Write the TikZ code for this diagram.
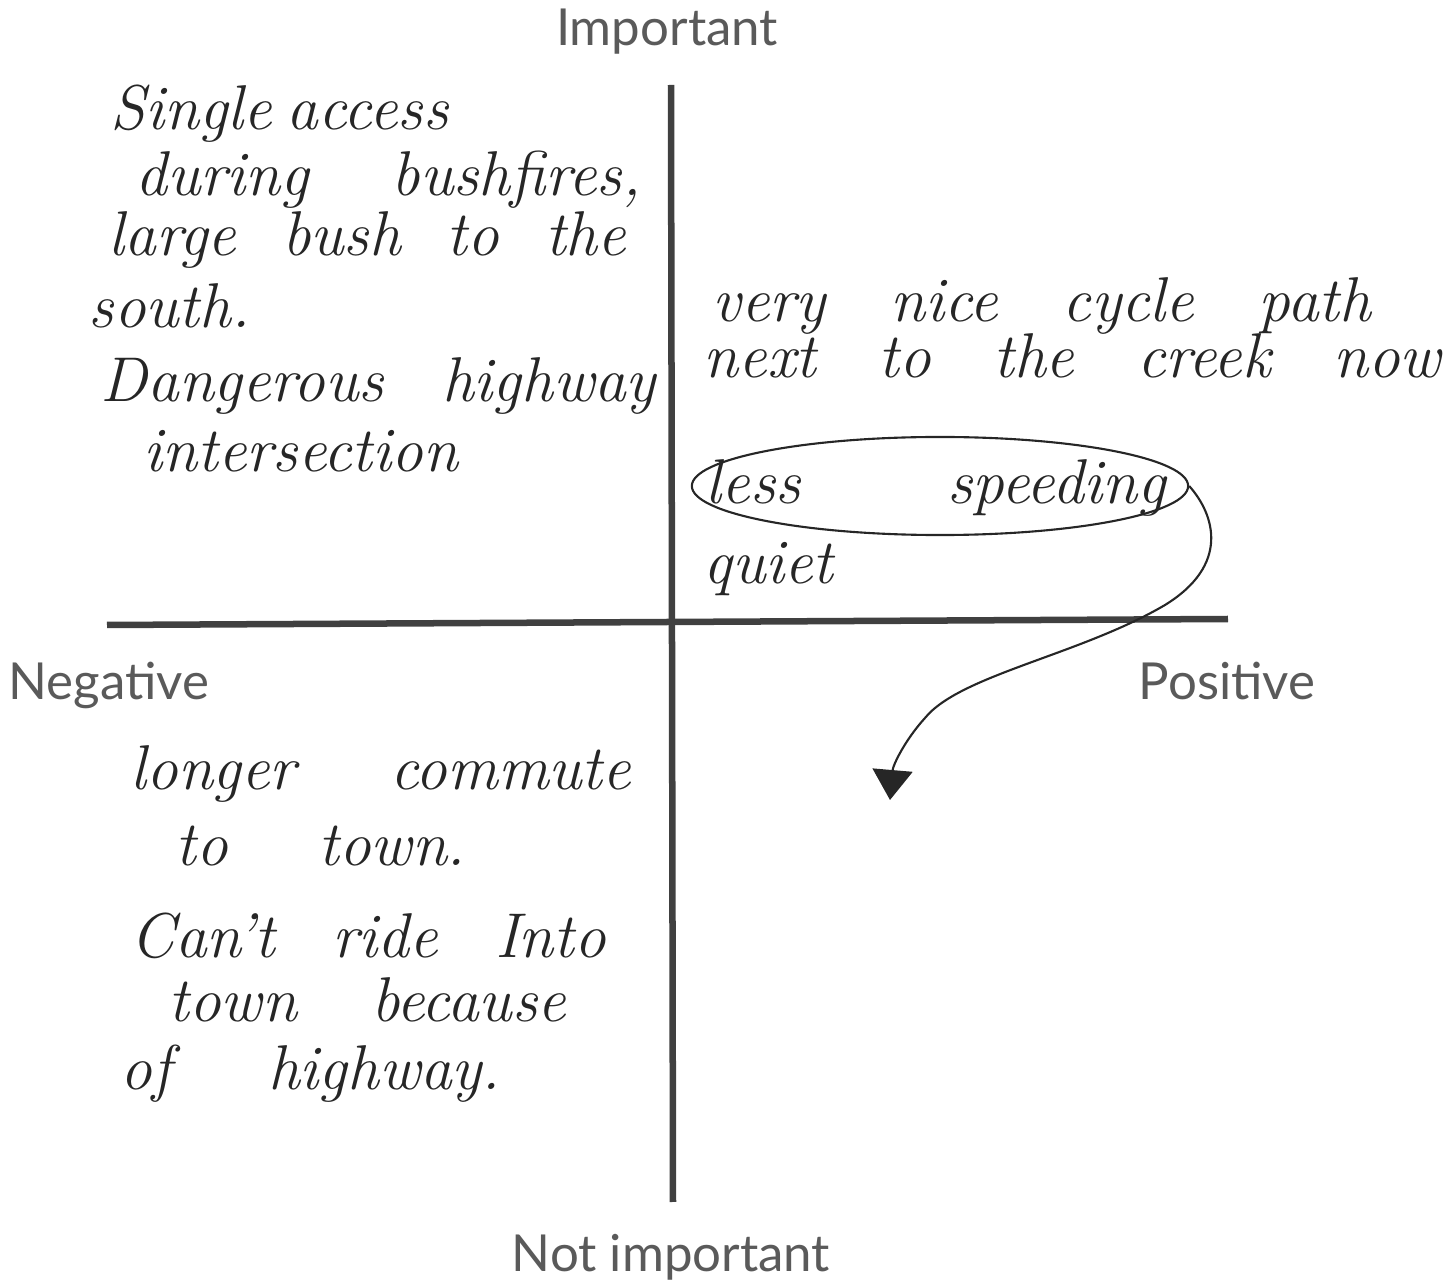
\documentclass[tikz,border=0pt]{standalone}
\usepackage{fontspec}
\usetikzlibrary{arrows.meta,shapes.geometric}
\newfontfamily\labelfont{Lato}
\definecolor{axisgray}{HTML}{404040}
\definecolor{inkgray}{HTML}{262626}
\definecolor{labelgray}{HTML}{5A5A5A}
\tikzset{
  axisline/.style={line width=0.065cm, draw=axisgray},
  axislabel/.style={font=\labelfont\fontsize{14.5}{17}\selectfont, text=labelgray, inner sep=0pt},
  hand/.style={font=\itshape\fontsize{18}{21}\selectfont, text=inkgray, inner sep=0pt, anchor=base west},
  loop/.style={draw=inkgray, line width=0.6pt},
}
\newcommand{\spread}[2]{\makebox[#1][s]{#2}}
\begin{document}
\begin{tikzpicture}[x=0.01cm,y=-0.01cm]
\useasboundingbox (0,0) rectangle (1453,1282);
% axes
\coordinate (vtop) at (671,85);
\coordinate (vbot) at (673,1202);
\coordinate (hleft) at (107,625);
\coordinate (hright) at (1228,619);
\draw[axisline] (vtop) -- (vbot);
\draw[axisline] (hleft) -- (hright);
% axis labels
\node[axislabel] (imp) at (667,32) {Important};
\node[axislabel] (notimp) at (671,1257) {Not important};
\node[axislabel, anchor=west] (neg) at (8,685) {Negative};
\node[axislabel] (pos) at (1227,681) {Positive};
% top-left quadrant
\node[hand] (tl1) at (110,130) {\spread{3.20cm}{Single access}};
\node[hand] (tl2) at (135,196) {\spread{5.05cm}{during bushfires,}};
\node[hand] (tl3) at (108,256) {\spread{5.17cm}{large bush to the}};
\node[hand] (tl4) at (88,328) {south.};
\node[hand] (tl5) at (100,402) {\spread{5.55cm}{Dangerous highway}};
\node[hand] (tl6) at (143,472) {intersection};
% top-right quadrant
\node[hand] (tr1) at (712,322) {\spread{6.58cm}{very nice cycle path}};
\node[hand] (tr2) at (703,378) {\spread{7.37cm}{next to the creek now}};
\node[hand] (tr3) at (705,504) {\spread{4.60cm}{less speeding}};
\node[hand] (tr4) at (703,584) {quiet};
\node[loop, ellipse, minimum width=4.96cm, minimum height=0.98cm, inner sep=0pt] (ls) at (940,486) {};
% arrow
\coordinate (tip) at (890,800);
\draw[loop, -{Triangle[length=0.3cm,width=0.4cm]}] (ls.east)
  .. controls (1215,515) and (1230,565) .. (1165,605)
  .. controls (1080,655) and (960,675) .. (925,718)
  .. controls (905,740) and (893,765) .. (tip);
% bottom-left quadrant
\node[hand] (bl1) at (130,790) {\spread{5.00cm}{longer commute}};
\node[hand] (bl2) at (175,866) {\spread{2.90cm}{to town.}};
\node[hand] (bl3) at (130,958) {\spread{4.75cm}{Can't ride Into}};
\node[hand] (bl4) at (168,1022) {\spread{3.97cm}{town because}};
\node[hand] (bl5) at (120,1090) {\spread{3.80cm}{of highway.}};
\end{tikzpicture}
\end{document}
